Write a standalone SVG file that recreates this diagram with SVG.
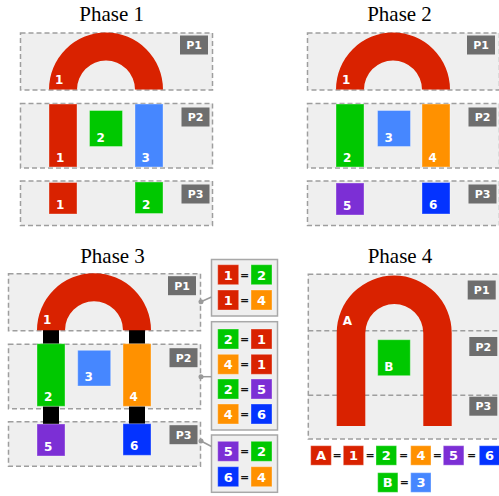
<svg xmlns="http://www.w3.org/2000/svg" width="499" height="496" viewBox="0 0 499 496">
  <style>
    .title { font-family: "Liberation Serif", "Times New Roman", serif; font-size: 21px; fill: #000; text-anchor: middle; }
    .panel { fill: #efefef; stroke: #9e9e9e; stroke-width: 1.5; stroke-dasharray: 5 3; }
    .divider { fill: none; stroke: #9e9e9e; stroke-width: 1.5; stroke-dasharray: 5 3; }
    .tag { fill: #6e6e6e; }
    .tagtxt { font-family: "DejaVu Sans", Verdana, sans-serif; font-weight: bold; font-size: 11px; fill: #fff; text-anchor: middle; }
    .num { font-family: "DejaVu Sans", Verdana, sans-serif; font-weight: bold; font-size: 12px; fill: #fff; }
    .sq { font-family: "DejaVu Sans", Verdana, sans-serif; font-weight: bold; font-size: 13px; fill: #fff; text-anchor: middle; }
    .eq { font-family: "DejaVu Sans", Verdana, sans-serif; font-weight: bold; font-size: 11px; fill: #111; text-anchor: middle; }
    .blk { stroke: #fff; stroke-opacity: 0.35; stroke-width: 1; }
    .red { fill: #d92200; }
    .green { fill: #00c800; }
    .lblue { fill: #4687ff; }
    .orange { fill: #ff9100; }
    .purple { fill: #7c2fd5; }
    .blue { fill: #0433ff; }
    .black { fill: #000; }
    .eqbox { fill: #efefef; stroke: #a8a8a8; stroke-width: 1.5; }
    .link { fill: none; stroke: #9a9a9a; stroke-width: 1.5; }
    .dot { fill: #9a9a9a; }
  </style>

  <!-- Phase 1 -->
  <g id="phase1">
    <text class="title" x="111.7" y="20.7">Phase 1</text>
    <g id="p1-panel1">
      <rect class="panel" x="20.5" y="33" width="192" height="57"/>
      <rect class="tag" x="180" y="35.5" width="28" height="19"/>
      <text class="tagtxt" x="194" y="49">P1</text>
    </g>
    <g id="p1-panel2">
      <rect class="panel" x="20.5" y="103.5" width="192" height="64.5"/>
      <rect class="tag" x="181.5" y="107.5" width="28" height="19"/>
      <text class="tagtxt" x="195.5" y="121">P2</text>
    </g>
    <g id="p1-panel3">
      <rect class="panel" x="20.5" y="181" width="192" height="44.5"/>
      <rect class="tag" x="181.5" y="184.5" width="28" height="19"/>
      <text class="tagtxt" x="195.5" y="198">P3</text>
    </g>
    <g id="p1-arch">
      <path class="red" d="M49,89.5 A57,57 0 0 1 163,89.5 L135,89.5 A29,29 0 0 0 77,89.5 Z"/>
      <text class="num" x="55" y="83.5">1</text>
    </g>
    <g id="p1-b1">
      <rect class="red blk" x="49" y="104" width="28" height="63"/>
      <text class="num" x="56" y="162">1</text>
    </g>
    <g id="p1-b2">
      <rect class="green blk" x="89.5" y="110.5" width="33" height="36"/>
      <text class="num" x="96.5" y="141.5">2</text>
    </g>
    <g id="p1-b3">
      <rect class="lblue blk" x="135" y="104" width="28" height="63"/>
      <text class="num" x="141.5" y="162">3</text>
    </g>
    <g id="p1-b1-low">
      <rect class="red blk" x="49" y="182.5" width="28" height="31.5"/>
      <text class="num" x="56" y="209">1</text>
    </g>
    <g id="p1-b2-low">
      <rect class="green blk" x="135" y="182" width="28" height="31.5"/>
      <text class="num" x="142" y="208.5">2</text>
    </g>
  </g>

  <!-- Phase 2 -->
  <g id="phase2">
    <text class="title" x="399.5" y="20.7">Phase 2</text>
    <g transform="translate(287,0)">
      <g id="p2-panel1">
        <rect class="panel" x="20.5" y="33" width="192" height="57"/>
        <rect class="tag" x="180" y="35.5" width="28" height="19"/>
        <text class="tagtxt" x="194" y="49">P1</text>
      </g>
      <g id="p2-panel2">
        <rect class="panel" x="20.5" y="103.5" width="192" height="64.5"/>
        <rect class="tag" x="181.5" y="107.5" width="28" height="19"/>
        <text class="tagtxt" x="195.5" y="121">P2</text>
      </g>
      <g id="p2-panel3">
        <rect class="panel" x="20.5" y="181" width="192" height="44.5"/>
        <rect class="tag" x="181.5" y="184.5" width="28" height="19"/>
        <text class="tagtxt" x="195.5" y="198">P3</text>
      </g>
      <g id="p2-arch">
        <path class="red" d="M49,89.5 A57,57 0 0 1 163,89.5 L135,89.5 A29,29 0 0 0 77,89.5 Z"/>
        <text class="num" x="55" y="83.5">1</text>
      </g>
      <g id="p2-b2">
        <rect class="green blk" x="49" y="104" width="28" height="63"/>
        <text class="num" x="56" y="162">2</text>
      </g>
      <g id="p2-b3">
        <rect class="lblue blk" x="90.5" y="110.5" width="33" height="36"/>
        <text class="num" x="97.5" y="141.5">3</text>
      </g>
      <g id="p2-b4">
        <rect class="orange blk" x="135" y="104" width="28" height="63"/>
        <text class="num" x="141.5" y="162">4</text>
      </g>
      <g id="p2-b5">
        <rect class="purple blk" x="49" y="183" width="28" height="32"/>
        <text class="num" x="56" y="209.5">5</text>
      </g>
      <g id="p2-b6">
        <rect class="blue blk" x="135" y="182.5" width="28" height="31.5"/>
        <text class="num" x="142" y="209">6</text>
      </g>
    </g>
  </g>

  <!-- Phase 3 -->
  <g id="phase3">
    <text class="title" x="112.5" y="262.5">Phase 3</text>
    <g transform="translate(-12,240.7)">
      <g id="p3-panel1">
        <rect class="panel" x="20.5" y="33" width="192" height="57"/>
        <rect class="tag" x="180" y="35.5" width="28" height="19"/>
        <text class="tagtxt" x="194" y="49">P1</text>
      </g>
      <g id="p3-panel2">
        <rect class="panel" x="20.5" y="103.5" width="192" height="64.5"/>
        <rect class="tag" x="181.5" y="107.5" width="28" height="19"/>
        <text class="tagtxt" x="195.5" y="121">P2</text>
      </g>
      <g id="p3-panel3">
        <rect class="panel" x="20.5" y="181" width="192" height="44.5"/>
        <rect class="tag" x="181.5" y="184.5" width="28" height="19"/>
        <text class="tagtxt" x="195.5" y="198">P3</text>
      </g>
      <g id="p3-joints">
        <rect class="black" x="55" y="88.6" width="16" height="15"/>
        <rect class="black" x="141" y="88.6" width="16" height="15"/>
        <rect class="black" x="55" y="165.5" width="16" height="18.5"/>
        <rect class="black" x="141" y="165.5" width="16" height="18.5"/>
      </g>
      <g id="p3-arch">
        <path class="red" d="M49,89.5 A57,57 0 0 1 163,89.5 L135,89.5 A29,29 0 0 0 77,89.5 Z"/>
        <text class="num" x="55" y="83.5">1</text>
      </g>
      <g id="p3-b2">
        <rect class="green blk" x="49" y="103" width="28" height="62.6"/>
        <text class="num" x="56" y="160.5">2</text>
      </g>
      <g id="p3-b3">
        <rect class="lblue blk" x="89.7" y="109.6" width="33" height="35.7"/>
        <text class="num" x="96.5" y="140.5">3</text>
      </g>
      <g id="p3-b4">
        <rect class="orange blk" x="135" y="103" width="28" height="62.6"/>
        <text class="num" x="141.5" y="160.5">4</text>
      </g>
      <g id="p3-b5">
        <rect class="purple blk" x="49" y="183.3" width="28" height="32"/>
        <text class="num" x="56" y="210">5</text>
      </g>
      <g id="p3-b6">
        <rect class="blue blk" x="135" y="183" width="28" height="31.6"/>
        <text class="num" x="142" y="209.5">6</text>
      </g>
    </g>
  </g>

  <!-- Phase 3 constraint boxes -->
  <g id="eq-p1">
    <rect class="eqbox" x="211.5" y="259.5" width="66" height="56.5"/>
    <rect class="red blk" x="217.7" y="264.7" width="21" height="20"/>
    <text class="sq" x="228.2" y="279.5">1</text>
    <text class="eq" x="244.5" y="278.5">=</text>
    <rect class="green blk" x="251" y="264.7" width="21" height="20"/>
    <text class="sq" x="261.5" y="279.5">2</text>
    <rect class="red blk" x="217.7" y="290" width="21" height="20"/>
    <text class="sq" x="228.2" y="304.8">1</text>
    <text class="eq" x="244.5" y="303.8">=</text>
    <rect class="orange blk" x="251" y="290" width="21" height="20"/>
    <text class="sq" x="261.5" y="304.8">4</text>
  </g>
  <g id="eq-p2">
    <rect class="eqbox" x="211.5" y="321.7" width="66" height="108.3"/>
    <rect class="green blk" x="217.7" y="329" width="21" height="20"/>
    <text class="sq" x="228.2" y="343.8">2</text>
    <text class="eq" x="244.5" y="342.8">=</text>
    <rect class="red blk" x="251" y="329" width="21" height="20"/>
    <text class="sq" x="261.5" y="343.8">1</text>
    <rect class="orange blk" x="217.7" y="354.3" width="21" height="20"/>
    <text class="sq" x="228.2" y="369.1">4</text>
    <text class="eq" x="244.5" y="368.1">=</text>
    <rect class="red blk" x="251" y="354.3" width="21" height="20"/>
    <text class="sq" x="261.5" y="369.1">1</text>
    <rect class="green blk" x="217.7" y="379" width="21" height="20"/>
    <text class="sq" x="228.2" y="393.8">2</text>
    <text class="eq" x="244.5" y="392.8">=</text>
    <rect class="purple blk" x="251" y="379" width="21" height="20"/>
    <text class="sq" x="261.5" y="393.8">5</text>
    <rect class="orange blk" x="217.7" y="404" width="21" height="20"/>
    <text class="sq" x="228.2" y="418.8">4</text>
    <text class="eq" x="244.5" y="417.8">=</text>
    <rect class="blue blk" x="251" y="404" width="21" height="20"/>
    <text class="sq" x="261.5" y="418.8">6</text>
  </g>
  <g id="eq-p3">
    <rect class="eqbox" x="211.5" y="435" width="66" height="57.3"/>
    <rect class="purple blk" x="217.7" y="441.3" width="21" height="20"/>
    <text class="sq" x="228.2" y="456.1">5</text>
    <text class="eq" x="244.5" y="455.1">=</text>
    <rect class="green blk" x="251" y="441.3" width="21" height="20"/>
    <text class="sq" x="261.5" y="456.1">2</text>
    <rect class="blue blk" x="217.7" y="466.7" width="21" height="20"/>
    <text class="sq" x="228.2" y="481.5">6</text>
    <text class="eq" x="244.5" y="480.5">=</text>
    <rect class="orange blk" x="251" y="466.7" width="21" height="20"/>
    <text class="sq" x="261.5" y="481.5">4</text>
  </g>

  <!-- Links from the Phase 3 panels to their constraint boxes -->
  <g id="connectors">
    <path class="link" d="M201,301.7 L211.5,297"/>
    <circle class="dot" cx="201" cy="301.7" r="2.5"/>
    <path class="link" d="M201,376.7 L211.5,376.7"/>
    <circle class="dot" cx="201" cy="376.7" r="2.5"/>
    <path class="link" d="M201,441 L211.5,446.5"/>
    <circle class="dot" cx="201" cy="441" r="2.5"/>
  </g>

  <!-- Phase 4 -->
  <g id="phase4">
    <text class="title" x="400" y="262.7">Phase 4</text>
    <g id="p4-panel">
      <rect class="panel" x="308.3" y="274.3" width="192" height="164.7"/>
      <path class="divider" d="M308.3,330.7 H500.3 M308.3,395.3 H500.3"/>
      <rect class="tag" x="467.7" y="280.5" width="28" height="19"/>
      <text class="tagtxt" x="481.7" y="294">P1</text>
      <rect class="tag" x="469.3" y="337" width="28" height="19"/>
      <text class="tagtxt" x="483.3" y="350.5">P2</text>
      <rect class="tag" x="469.3" y="396.7" width="28" height="19"/>
      <text class="tagtxt" x="483.3" y="410.2">P3</text>
    </g>
    <g id="p4-A">
      <path class="red" d="M336.7,426 L336.7,333 A57.5,57.5 0 0 1 451.7,333 L451.7,426 L423.3,426 L423.3,333 A29,29 0 0 0 365.3,333 L365.3,426 Z"/>
      <text class="num" x="342.7" y="325">A</text>
    </g>
    <g id="p4-B">
      <rect class="green blk" x="377.7" y="339.7" width="32.6" height="36"/>
      <text class="num" x="384.3" y="370.7">B</text>
    </g>
    <g id="p4-legend">
      <rect class="red blk" x="310.7" y="445.7" width="20.6" height="19.5"/>
      <text class="sq" x="321" y="460.2">A</text>
      <text class="eq" x="337" y="459.2">=</text>
      <rect class="red blk" x="343.3" y="445.7" width="20.3" height="19.5"/>
      <text class="sq" x="353.5" y="460.2">1</text>
      <text class="eq" x="370" y="459.2">=</text>
      <rect class="green blk" x="376" y="445.7" width="20.6" height="19.5"/>
      <text class="sq" x="386.3" y="460.2">2</text>
      <text class="eq" x="403.5" y="459.2">=</text>
      <rect class="orange blk" x="410.7" y="445.7" width="20.3" height="19.5"/>
      <text class="sq" x="420.9" y="460.2">4</text>
      <text class="eq" x="437.3" y="459.2">=</text>
      <rect class="purple blk" x="443.3" y="445.7" width="20.6" height="19.5"/>
      <text class="sq" x="453.6" y="460.2">5</text>
      <text class="eq" x="471.7" y="459.2">=</text>
      <rect class="blue blk" x="479.3" y="445.7" width="20.6" height="19.5"/>
      <text class="sq" x="489.6" y="460.2">6</text>
      <rect class="green blk" x="377.7" y="472.7" width="20.2" height="19.6"/>
      <text class="sq" x="387.8" y="487.2">B</text>
      <text class="eq" x="404.3" y="486.2">=</text>
      <rect class="lblue blk" x="410.7" y="472.7" width="20.3" height="19.6"/>
      <text class="sq" x="420.9" y="487.2">3</text>
    </g>
  </g>
</svg>
